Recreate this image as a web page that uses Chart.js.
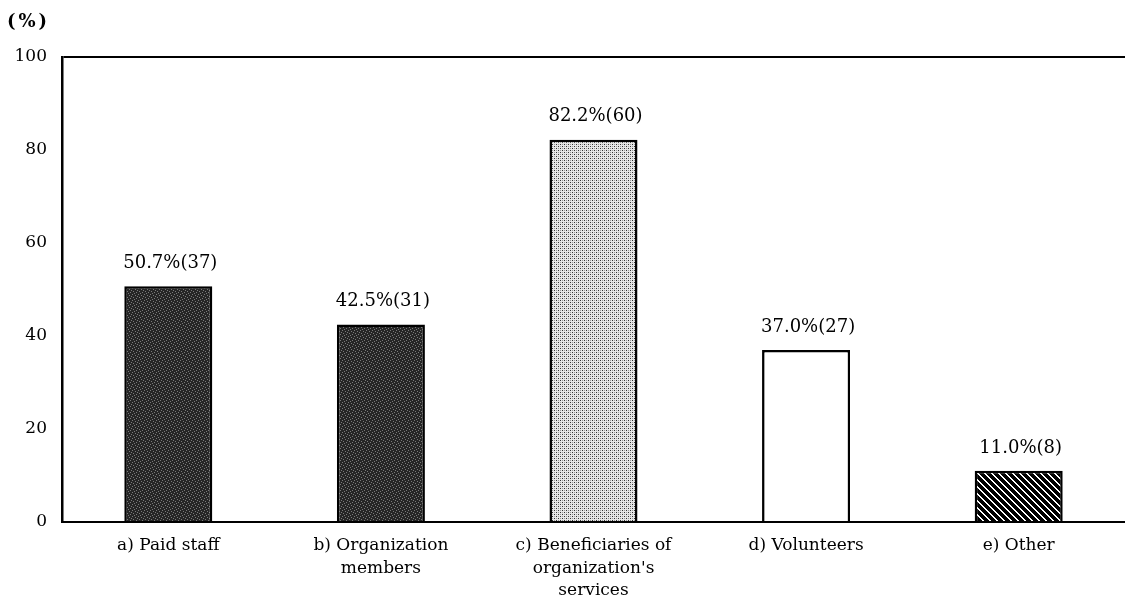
<!DOCTYPE html>
<html>
<head>
<meta charset="utf-8">
<script src="https://cdn.jsdelivr.net/npm/chart.js@4"></script>
<style>
  html, body { margin: 0; padding: 0; background: #fff; }
  #wrap { width: 1125px; height: 610px; }
</style>
</head>
<body>
<div id="wrap"><canvas id="c" width="1125" height="610"></canvas></div>
<script>
const categories = [
  ["a) Paid staff"],
  ["b) Organization", "members"],
  ["c) Beneficiaries of", "organization's", "services"],
  ["d) Volunteers"],
  ["e) Other"]
];
const percents = [50.7, 42.5, 82.2, 37.0, 11.0];
const counts = [37, 31, 60, 27, 8];
const yTicks = [0, 20, 40, 60, 80, 100];
const unitLabel = "(%)";

function makePattern(kind) {
  const c = document.createElement('canvas');
  const ctx = c.getContext('2d');
  if (kind === 'dark') {
    c.width = 6; c.height = 6;
    ctx.fillStyle = '#262626'; ctx.fillRect(0, 0, 6, 6);
    ctx.fillStyle = '#7a7a7a';
    [[0,0],[3,1],[1,3],[4,4],[5,2],[2,5]].forEach(p => ctx.fillRect(p[0], p[1], 1, 1));
  } else if (kind === 'light') {
    c.width = 4; c.height = 4;
    ctx.fillStyle = '#e6e6e6'; ctx.fillRect(0, 0, 4, 4);
    ctx.fillStyle = '#333';
    [[0,0],[2,2]].forEach(p => ctx.fillRect(p[0], p[1], 1, 1));
    ctx.fillStyle = '#999';
    [[2,0],[0,2]].forEach(p => ctx.fillRect(p[0], p[1], 1, 1));
  } else if (kind === 'hatch') {
    c.width = 7; c.height = 7;
    const img = ctx.createImageData(7, 7);
    for (let y = 0; y < 7; y++) for (let x = 0; x < 7; x++) {
      const d = ((x - y) % 7 + 7) % 7;
      const v = (d === 0 || d === 1) ? 255 : 0;
      const i = (y * 7 + x) * 4;
      img.data[i] = v; img.data[i+1] = v; img.data[i+2] = v; img.data[i+3] = 255;
    }
    ctx.putImageData(img, 0, 0);
  }
  return document.getElementById('c').getContext('2d').createPattern(c, 'repeat');
}

const fills = [makePattern('dark'), makePattern('dark'), makePattern('light'), '#ffffff', makePattern('hatch')];

const labelPlugin = {
  id: 'labels',
  afterDatasetsDraw(chart) {
    const ctx = chart.ctx;
    const meta = chart.getDatasetMeta(0);
    ctx.save();
    ctx.fillStyle = '#000';
    ctx.font = '18px "DejaVu Serif"';
    ctx.textAlign = 'center';
    ctx.textBaseline = 'middle';
    meta.data.forEach((bar, i) => {
      ctx.fillText(percents[i].toFixed(1) + '%(' + counts[i] + ')', bar.x + 2, bar.y - 23);
    });
    ctx.font = 'bold 18px "DejaVu Serif"';
    ctx.textAlign = 'left';
    if ('letterSpacing' in ctx) ctx.letterSpacing = '3px';
    ctx.fillText(unitLabel, 7, 22);
    ctx.restore();
  }
};

new Chart(document.getElementById('c'), {
  type: 'bar',
  data: {
    labels: categories,
    datasets: [{
      data: percents,
      backgroundColor: fills,
      borderColor: '#000',
      borderWidth: 2.5,
      barPercentage: 0.414,
      categoryPercentage: 1.0
    }]
  },
  options: {
    responsive: false,
    animation: false,
    layout: { padding: { top: 57, right: 0, left: 0, bottom: 0 } },
    plugins: { legend: { display: false }, tooltip: { enabled: false } },
    scales: {
      x: {
        grid: { display: false, drawTicks: false },
        border: { display: true, color: '#000', width: 2 },
        ticks: {
          color: '#000',
          font: { family: 'DejaVu Serif', size: 17, lineHeight: 1.3 },
          padding: 13,
          maxRotation: 0,
          autoSkip: false
        },
        afterFit(scale) { scale.height = 88; }
      },
      y: {
        min: 0, max: 100,
        afterBuildTicks(scale) { scale.ticks = yTicks.map(v => ({ value: v })); },
        grid: {
          drawTicks: false,
          color: (c) => (c.tick && c.tick.value === 100) ? '#000' : 'rgba(0,0,0,0)',
          lineWidth: 2
        },
        border: { display: true, color: '#000', width: 2.5 },
        ticks: {
          color: '#000',
          font: { family: 'DejaVu Serif', size: 17 },
          padding: 15
        },
        afterFit(scale) { scale.width = 62; }
      }
    }
  },
  plugins: [labelPlugin]
});
</script>
</body>
</html>
